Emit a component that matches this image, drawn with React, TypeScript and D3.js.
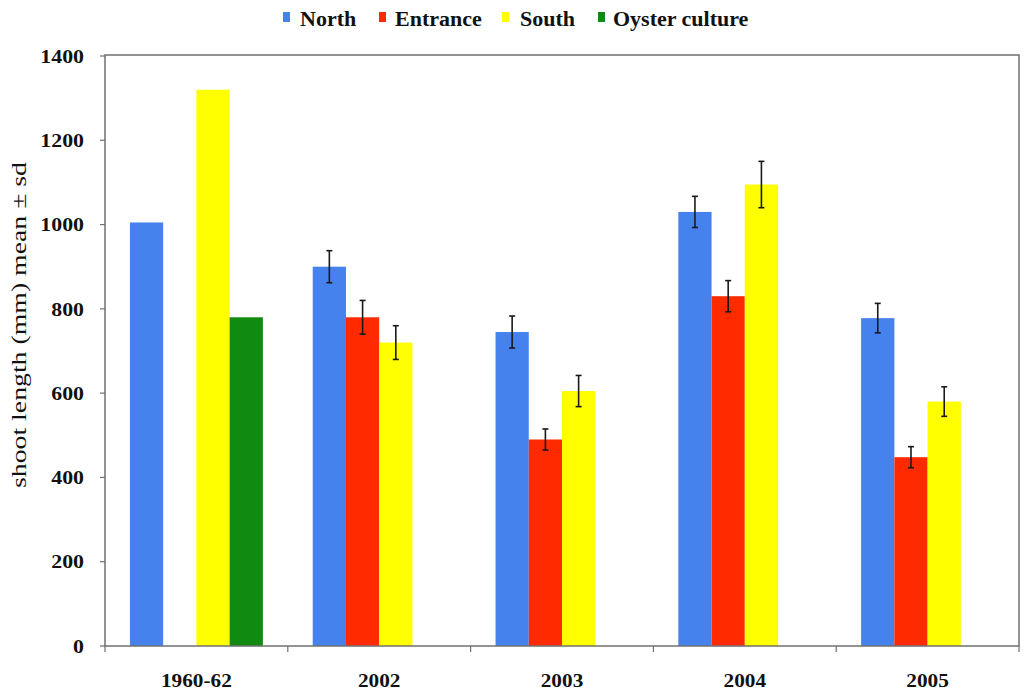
import React from "react";
import * as d3 from "d3";

const categories = ["1960-62", "2002", "2003", "2004", "2005"];
const seriesNames = ["North", "Entrance", "South", "Oyster culture"];
const seriesColors = ["#4682EE", "#FF2A00", "#FFFF00", "#118A11"];
const northMean = [1005, 900, 745, 1030, 778];
const northSd = [null, 38, 38, 37, 35];
const entranceMean = [null, 780, 490, 830, 448];
const entranceSd = [null, 40, 25, 37, 25];
const southMean = [1320, 720, 605, 1095, 580];
const southSd = [null, 40, 37, 55, 35];
const oysterMean = [780, null, null, null, null];
const oysterSd = [null, null, null, null, null];
const yTicks = [0, 200, 400, 600, 800, 1000, 1200, 1400];
const yLabel = "shoot length (mm) mean ± sd";

const means = [northMean, entranceMean, southMean, oysterMean];
const sds = [northSd, entranceSd, southSd, oysterSd];

const W = 1024;
const H = 692;
const plotLeft = 105;
const plotRight = 1019;
const plotTop = 56;
const plotBottom = 646;
const font = "'Liberation Serif', 'Times New Roman', serif";

export default function App() {
  const x = d3.scaleBand<string>().domain(categories).range([plotLeft, plotRight]).paddingInner(0).paddingOuter(0);
  const y = d3.scaleLinear().domain([0, 1400]).range([plotBottom, plotTop]);
  const bw = x.bandwidth();
  const inner = d3
    .scaleBand<string>()
    .domain(seriesNames)
    .range([0, bw])
    .paddingOuter(0.75)
    .paddingInner(0);
  const sw = inner.bandwidth();

  const legendX = [283, 379, 502, 598];
  const legendTextX = [300, 395, 520, 613];

  return (
    <svg
      width={W}
      height={H}
      style={{ position: "absolute", left: 0, top: 0, background: "#fff" }}
    >
      {/* legend */}
      {seriesNames.map((s, i) => (
        <g key={s}>
          <rect x={legendX[i]} y={12} width={7} height={10} fill={seriesColors[i]} />
          <text
            transform={`translate(${legendTextX[i]},26) scale(1.1,1)`}
            fontFamily={font}
            fontWeight="bold"
            fontSize={20}
            fill="#111"
          >
            {s}
          </text>
        </g>
      ))}

      {/* bars */}
      {categories.map((c, ci) =>
        seriesNames.map((s, si) => {
          const v = means[si][ci];
          if (v == null) return null;
          const bx = (x(c) as number) + (inner(s) as number);
          return (
            <rect
              key={c + s}
              x={bx}
              y={y(v)}
              width={sw}
              height={plotBottom - y(v)}
              fill={seriesColors[si]}
            />
          );
        })
      )}

      {/* error bars */}
      {categories.map((c, ci) =>
        seriesNames.map((s, si) => {
          const v = means[si][ci];
          const e = sds[si][ci];
          if (v == null || e == null) return null;
          const cx = (x(c) as number) + (inner(s) as number) + sw / 2;
          return (
            <g key={"e" + c + s} stroke="#1a1a1a" strokeWidth={1.6}>
              <line x1={cx} x2={cx} y1={y(v + e)} y2={y(v - e)} />
              <line x1={cx - 3} x2={cx + 3} y1={y(v + e)} y2={y(v + e)} />
              <line x1={cx - 3} x2={cx + 3} y1={y(v - e)} y2={y(v - e)} />
            </g>
          );
        })
      )}

      {/* frame */}
      <rect
        x={plotLeft}
        y={plotTop - 1}
        width={plotRight - plotLeft}
        height={plotBottom - plotTop + 1}
        fill="none"
        stroke="#707070"
        strokeWidth={1.5}
      />

      {/* y ticks */}
      {yTicks.map((t) => (
        <g key={t}>
          <line x1={plotLeft - 5} x2={plotLeft} y1={y(t)} y2={y(t)} stroke="#707070" strokeWidth={1.2} />
          <text
            transform={`translate(84,${y(t)}) scale(1.15,1)`}
            dy="0.35em"
            textAnchor="end"
            fontFamily={font}
            fontWeight="bold"
            fontSize={19}
            fill="#111"
          >
            {t}
          </text>
        </g>
      ))}

      {/* x ticks */}
      {categories.concat(["end"]).map((c, i) => {
        const px = i < categories.length ? (x(c) as number) : plotRight;
        return (
          <line key={"xt" + i} x1={px} x2={px} y1={plotBottom} y2={plotBottom + 6} stroke="#707070" strokeWidth={1.2} />
        );
      })}
      {categories.map((c) => (
        <text
          key={"xl" + c}
          transform={`translate(${(x(c) as number) + bw / 2},687) scale(1.12,1)`}
          textAnchor="middle"
          fontFamily={font}
          fontWeight="bold"
          fontSize={19}
          fill="#111"
        >
          {c}
        </text>
      ))}

      {/* y label */}
      <text
        transform={`translate(26, 325) rotate(-90)`}
        textAnchor="middle"
        fontFamily={font}
        fontSize={21}
        textLength={326}
        lengthAdjust="spacingAndGlyphs"
        fill="#111"
      >
        {yLabel}
      </text>
    </svg>
  );
}
